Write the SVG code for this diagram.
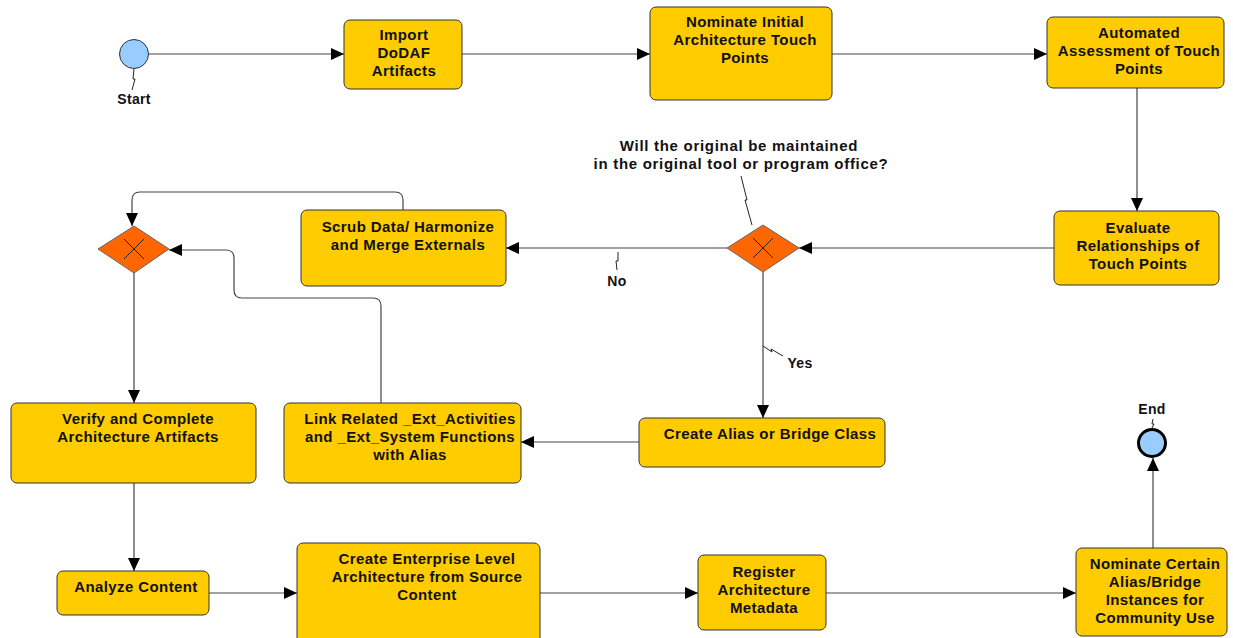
<svg xmlns="http://www.w3.org/2000/svg" width="1233" height="638" viewBox="0 0 1233 638">
<style>
.box{fill:#FFCC00;stroke:#333;stroke-width:1}
.gw{fill:#FF6600;stroke:#666;stroke-width:1}
.x{stroke:#222;stroke-width:1}
.t{font-family:"Liberation Sans",Arial,sans-serif;font-weight:bold;font-size:15px;fill:#111;text-anchor:middle;letter-spacing:0.4px}
.lb{font-family:"Liberation Sans",Arial,sans-serif;font-weight:bold;font-size:14px;fill:#111;text-anchor:middle;letter-spacing:0.3px}
.q{font-family:"Liberation Sans",Arial,sans-serif;font-weight:bold;font-size:15px;fill:#111;text-anchor:middle;letter-spacing:0.7px}
.e{fill:none;stroke:#444;stroke-width:1.2;marker-end:url(#arr)}
.z{fill:none;stroke:#222;stroke-width:1}
</style>
<defs>
<marker id="arr" markerUnits="userSpaceOnUse" markerWidth="14" markerHeight="12" refX="13" refY="6" orient="auto">
<path d="M0,0 L13,6 L0,12 z" fill="#000"/>
</marker>
</defs>
<rect width="1233" height="638" fill="#fff"/>
<g id="connectors">
<path class="e" d="M149,54 H344"/>
<path class="e" d="M462,54 H650"/>
<path class="e" d="M832,54 H1047"/>
<path class="e" d="M1137,88 V211"/>
<path class="e" d="M1054,248 H799"/>
<path class="e" d="M727,248 H506"/>
<path class="e" d="M403,211 V200 Q403,192 395,192 H140 Q132,192 132,200 V226"/>
<path class="e" d="M381,403 V306 Q381,298 373,298 H242 Q234,298 234,290 V258 Q234,250 226,250 H169"/>
<path class="e" d="M134,273 V403"/>
<path class="e" d="M763,272 V418"/>
<path class="e" d="M639,442 H521"/>
<path class="e" d="M134,483 V571"/>
<path class="e" d="M209,593 H297"/>
<path class="e" d="M540,593 H698"/>
<path class="e" d="M826,593 H1076"/>
<path class="e" d="M1153,548 V458"/>
</g>
<g id="annotations">
<path class="z" d="M134,69 L133,79 L135,79 L132,90"/>
<path class="z" d="M741,176 L747,200 L745,200 L752,225"/>
<path class="z" d="M618,252 L618,261 L616,261 L617,270"/>
<path class="z" d="M763,346 L772,352 L771,349 L783,356"/>
<path class="z" d="M1153,419 L1152,424 L1154,424 L1152,428"/>
</g>
<g id="start">
<circle cx="134" cy="54" r="14.5" fill="#99CCFF" stroke="#333" stroke-width="1"/>
<text class="lb" x="134" y="104">Start</text>
</g>
<g id="import">
<rect class="box" x="344" y="20" width="118" height="69" rx="6"/>
<text class="t" x="404" y="40">Import</text>
<text class="t" x="404" y="58">DoDAF</text>
<text class="t" x="404" y="76">Artifacts</text>
</g>
<g id="nominate-initial">
<rect class="box" x="650" y="7" width="182" height="93" rx="6"/>
<text class="t" x="745" y="27">Nominate Initial</text>
<text class="t" x="745" y="45">Architecture Touch</text>
<text class="t" x="745" y="63">Points</text>
</g>
<g id="automated">
<rect class="box" x="1047" y="17" width="177" height="71" rx="6"/>
<text class="t" x="1139" y="38">Automated</text>
<text class="t" x="1139" y="56">Assessment of Touch</text>
<text class="t" x="1139" y="74">Points</text>
</g>
<g id="evaluate">
<rect class="box" x="1054" y="211" width="165" height="74" rx="6"/>
<text class="t" x="1138" y="233">Evaluate</text>
<text class="t" x="1138" y="251">Relationships of</text>
<text class="t" x="1138" y="269">Touch Points</text>
</g>
<g id="gateway2">
<path class="gw" d="M763,225 L799,248 L763,272 L727,248 z"/>
<path class="x" d="M753,238 L773,258 M773,238 L753,258"/>
<text class="q" x="739" y="151">Will the original be maintained</text>
<text class="q" x="741" y="169">in the original tool or program office?</text>
<text class="lb" x="617" y="286">No</text>
<text class="lb" x="800" y="368">Yes</text>
</g>
<g id="scrub">
<rect class="box" x="301" y="210" width="205" height="76" rx="6"/>
<text class="t" x="408" y="232">Scrub Data/ Harmonize</text>
<text class="t" x="408" y="250">and Merge Externals</text>
</g>
<g id="gateway1">
<path class="gw" d="M134,226 L169,249 L134,273 L98,249 z"/>
<path class="x" d="M124,239 L144,259 M144,239 L124,259"/>
</g>
<g id="verify">
<rect class="box" x="11" y="403" width="245" height="80" rx="6"/>
<text class="t" x="138" y="424">Verify and Complete</text>
<text class="t" x="138" y="442">Architecture Artifacts</text>
</g>
<g id="link">
<rect class="box" x="284" y="403" width="237" height="80" rx="6"/>
<text class="t" x="410" y="424">Link Related _Ext_Activities</text>
<text class="t" x="410" y="442">and _Ext_System Functions</text>
<text class="t" x="410" y="460">with Alias</text>
</g>
<g id="create-alias">
<rect class="box" x="639" y="418" width="246" height="49" rx="6"/>
<text class="t" x="770" y="439">Create Alias or Bridge Class</text>
</g>
<g id="analyze">
<rect class="box" x="57" y="571" width="152" height="44" rx="6"/>
<text class="t" x="136" y="592">Analyze Content</text>
</g>
<g id="create-enterprise">
<rect class="box" x="297" y="543" width="243" height="110" rx="6"/>
<text class="t" x="427" y="564">Create Enterprise Level</text>
<text class="t" x="427" y="582">Architecture from Source</text>
<text class="t" x="427" y="600">Content</text>
</g>
<g id="register">
<rect class="box" x="698" y="555" width="128" height="75" rx="6"/>
<text class="t" x="764" y="577">Register</text>
<text class="t" x="764" y="595">Architecture</text>
<text class="t" x="764" y="613">Metadata</text>
</g>
<g id="nominate-certain">
<rect class="box" x="1076" y="548" width="151" height="88" rx="6"/>
<text class="t" x="1155" y="569">Nominate Certain</text>
<text class="t" x="1155" y="587">Alias/Bridge</text>
<text class="t" x="1155" y="605">Instances for</text>
<text class="t" x="1155" y="623">Community Use</text>
</g>
<g id="end">
<circle cx="1152" cy="443" r="13.5" fill="#99CCFF" stroke="#000" stroke-width="3"/>
<text class="lb" x="1152" y="414">End</text>
</g>
</svg>
